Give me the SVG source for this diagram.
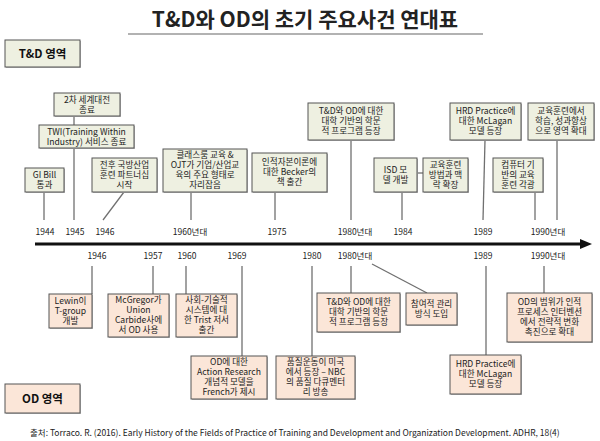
<svg xmlns="http://www.w3.org/2000/svg" width="600" height="441" viewBox="0 0 600 441">
<style>
text{font-family:"Noto Sans CJK KR","Liberation Sans",sans-serif;fill:#222;}
.t{font-size:8.6px;text-anchor:middle;}
.yr{font-size:8.5px;text-anchor:middle;fill:#222;}
.td{fill:#eef0e1;stroke:#555;stroke-width:1;}
.od{fill:#fbe6d8;stroke:#555;stroke-width:1;}
.sh{fill:#bbb;}
.c{stroke:#707070;stroke-width:1.3;fill:none;}
.lab{font-size:11.5px;font-weight:bold;text-anchor:middle;fill:#111;}
</style>
<rect width="600" height="441" fill="#fff"/>
<g id="title">
<text x="305" y="27" font-size="21" font-weight="bold" text-anchor="middle" fill="#111">T&amp;D와 OD의 초기 주요사건 연대표</text>
<line x1="128" y1="34" x2="483" y2="34" stroke="#999" stroke-width="1.5"/>
</g>
<g id="label-td"><rect class="sh" x="6" y="41" width="75" height="27"/><rect class="td" x="5" y="40" width="75" height="27"/><text class="lab" x="42.5" y="58">T&amp;D 영역</text></g>
<g id="label-od"><rect class="sh" x="6" y="385" width="75" height="29"/><rect class="od" x="5" y="384" width="75" height="29"/><text class="lab" x="42.5" y="403">OD 영역</text></g>

<g id="connectors">
<line class="c" x1="74" y1="116" x2="74" y2="125"/>
<line class="c" x1="74" y1="148" x2="74" y2="220"/>
<line class="c" x1="44" y1="192" x2="44" y2="220"/>
<line class="c" x1="124" y1="192" x2="103" y2="220"/>
<line class="c" x1="191" y1="192" x2="191" y2="220"/>
<line class="c" x1="275" y1="192" x2="275" y2="220"/>
<line class="c" x1="351" y1="140" x2="351" y2="220"/>
<line class="c" x1="402" y1="192" x2="402" y2="220"/>
<line class="c" x1="417" y1="173" x2="423" y2="173"/>
<line class="c" x1="485" y1="140" x2="483" y2="220"/>
<line class="c" x1="557" y1="140" x2="557" y2="220"/>
<line class="c" x1="535" y1="192" x2="535" y2="220"/>
<line class="c" x1="92" y1="266" x2="92" y2="294"/>
<line class="c" x1="153" y1="266" x2="153" y2="294"/>
<line class="c" x1="186" y1="266" x2="186" y2="294"/>
<line class="c" x1="242" y1="266" x2="242" y2="356"/>
<line class="c" x1="312" y1="266" x2="312" y2="356"/>
<line class="c" x1="351" y1="266" x2="351" y2="293"/>
<line class="c" x1="372" y1="264" x2="427" y2="293"/>
<line class="c" x1="486" y1="266" x2="486" y2="355"/>
<line class="c" x1="544" y1="266" x2="544" y2="293"/>
</g>

<g id="axis">
<line x1="35" y1="244" x2="584" y2="244" stroke="#111" stroke-width="3"/>
<polygon points="580,239 592,244 580,249" fill="#111"/>
</g>

<g id="years-top">
<text class="yr" x="45" y="235">1944</text>
<text class="yr" x="75" y="235">1945</text>
<text class="yr" x="105" y="235">1946</text>
<text class="yr" x="190" y="235">1960년대</text>
<text class="yr" x="277" y="235">1975</text>
<text class="yr" x="355" y="235">1980년대</text>
<text class="yr" x="403" y="235">1984</text>
<text class="yr" x="483" y="235">1989</text>
<text class="yr" x="548" y="235">1990년대</text>
</g>
<g id="years-bottom">
<text class="yr" x="97" y="259">1946</text>
<text class="yr" x="153" y="259">1957</text>
<text class="yr" x="187" y="259">1960</text>
<text class="yr" x="237" y="259">1969</text>
<text class="yr" x="312" y="259">1980</text>
<text class="yr" x="355" y="259">1980년대</text>
<text class="yr" x="483" y="259">1989</text>
<text class="yr" x="548" y="259">1990년대</text>
</g>

<g id="b-ww2"><rect class="sh" x="55" y="94" width="66" height="23"/><rect class="td" x="54" y="93" width="66" height="23"/><text class="t" x="87" y="103"><tspan x="87">2차 세계대전</tspan><tspan x="87" dy="10">종료</tspan></text></g>
<g id="b-twi"><rect class="sh" x="40" y="126" width="95" height="23"/><rect class="td" x="39" y="125" width="95" height="23"/><text class="t" x="86.5" y="135"><tspan x="86.5">TWI(Training Within</tspan><tspan x="86.5" dy="10">Industry) 서비스 종료</tspan></text></g>
<g id="b-gi"><rect class="sh" x="26" y="169" width="39" height="24"/><rect class="td" x="25" y="168" width="39" height="24"/><text class="t" x="44.5" y="178"><tspan x="44.5">GI Bill</tspan><tspan x="44.5" dy="10">통과</tspan></text></g>
<g id="b-defense"><rect class="sh" x="93" y="159" width="65" height="34"/><rect class="td" x="92" y="158" width="65" height="34"/><text class="t" x="124.5" y="168"><tspan x="124.5">전후 국방산업</tspan><tspan x="124.5" dy="10">훈련 파트너십</tspan><tspan x="124.5" dy="10">시작</tspan></text></g>
<g id="b-classroom"><rect class="sh" x="164" y="150" width="84" height="43"/><rect class="td" x="163" y="149" width="84" height="43"/><text class="t" x="205" y="158"><tspan x="205">클래스룸 교육 &amp;</tspan><tspan x="205" dy="10">OJT가 기업/산업교</tspan><tspan x="205" dy="10">육의 주요 형태로</tspan><tspan x="205" dy="10">자리잡음</tspan></text></g>
<g id="b-becker"><rect class="sh" x="253" y="154" width="75" height="39"/><rect class="td" x="252" y="153" width="75" height="39"/><text class="t" x="289.5" y="165"><tspan x="289.5">인적자본이론에</tspan><tspan x="289.5" dy="10">대한 Becker의</tspan><tspan x="289.5" dy="10">책 출간</tspan></text></g>
<g id="b-univ-td"><rect class="sh" x="309" y="104" width="86" height="37"/><rect class="td" x="308" y="103" width="86" height="37"/><text class="t" x="351" y="114"><tspan x="351">T&amp;D와 OD에 대한</tspan><tspan x="351" dy="10">대학 기반의 학문</tspan><tspan x="351" dy="10">적 프로그램 등장</tspan></text></g>
<g id="b-isd"><rect class="sh" x="375" y="159" width="43" height="34"/><rect class="td" x="374" y="158" width="43" height="34"/><text class="t" x="395.5" y="173"><tspan x="395.5">ISD 모</tspan><tspan x="395.5" dy="10">델 개발</tspan></text></g>
<g id="b-method"><rect class="sh" x="424" y="159" width="45" height="34"/><rect class="td" x="423" y="158" width="45" height="34"/><text class="t" x="445.5" y="168"><tspan x="445.5">교육훈련</tspan><tspan x="445.5" dy="10">방법과 맥</tspan><tspan x="445.5" dy="10">락 확장</tspan></text></g>
<g id="b-hrd-td"><rect class="sh" x="451" y="104" width="71" height="37"/><rect class="td" x="450" y="103" width="71" height="37"/><text class="t" x="485.5" y="114"><tspan x="485.5">HRD Practice에</tspan><tspan x="485.5" dy="10">대한 McLagan</tspan><tspan x="485.5" dy="10">모델 등장</tspan></text></g>
<g id="b-learning"><rect class="sh" x="529" y="104" width="66" height="37"/><rect class="td" x="528" y="103" width="66" height="37"/><text class="t" x="561" y="114"><tspan x="561">교육훈련에서</tspan><tspan x="561" dy="10">학습, 성과향상</tspan><tspan x="561" dy="10">으로 영역 확대</tspan></text></g>
<g id="b-computer"><rect class="sh" x="494" y="159" width="50" height="34"/><rect class="td" x="493" y="158" width="50" height="34"/><text class="t" x="518" y="168"><tspan x="518">컴퓨터 기</tspan><tspan x="518" dy="10">반의 교육</tspan><tspan x="518" dy="10">훈련 각광</tspan></text></g>

<g id="b-lewin"><rect class="sh" x="50" y="295" width="43" height="34"/><rect class="od" x="49" y="294" width="43" height="34"/><text class="t" x="70.5" y="304"><tspan x="70.5">Lewin이</tspan><tspan x="70.5" dy="10">T-group</tspan><tspan x="70.5" dy="10">개발</tspan></text></g>
<g id="b-mcgregor"><rect class="sh" x="109" y="295" width="61" height="43"/><rect class="od" x="108" y="294" width="61" height="43"/><text class="t" x="138.5" y="303"><tspan x="138.5">McGregor가</tspan><tspan x="138.5" dy="10">Union</tspan><tspan x="138.5" dy="10">Carbide사에</tspan><tspan x="138.5" dy="10">서 OD 사용</tspan></text></g>
<g id="b-trist"><rect class="sh" x="177" y="295" width="61" height="43"/><rect class="od" x="176" y="294" width="61" height="43"/><text class="t" x="206.5" y="303"><tspan x="206.5">사회-기술적</tspan><tspan x="206.5" dy="10">시스템에 대</tspan><tspan x="206.5" dy="10">한 Trist 저서</tspan><tspan x="206.5" dy="10">출간</tspan></text></g>
<g id="b-action"><rect class="sh" x="192" y="357" width="76" height="43"/><rect class="od" x="191" y="356" width="76" height="43"/><text class="t" x="229" y="365"><tspan x="229">OD에 대한</tspan><tspan x="229" dy="10">Action Research</tspan><tspan x="229" dy="10">개념적 모델을</tspan><tspan x="229" dy="10">French가 제시</tspan></text></g>
<g id="b-quality"><rect class="sh" x="277" y="357" width="79" height="43"/><rect class="od" x="276" y="356" width="79" height="43"/><text class="t" x="315.5" y="365"><tspan x="315.5">품질운동이 미국</tspan><tspan x="315.5" dy="10">에서 등장 – NBC</tspan><tspan x="315.5" dy="10">의 품질 다큐멘터</tspan><tspan x="315.5" dy="10">리 방송</tspan></text></g>
<g id="b-univ-od"><rect class="sh" x="318" y="294" width="83" height="39"/><rect class="od" x="317" y="293" width="83" height="39"/><text class="t" x="358.5" y="305"><tspan x="358.5">T&amp;D와 OD에 대한</tspan><tspan x="358.5" dy="10">대학 기반의 학문</tspan><tspan x="358.5" dy="10">적 프로그램 등장</tspan></text></g>
<g id="b-particip"><rect class="sh" x="407" y="294" width="51" height="32"/><rect class="od" x="406" y="293" width="51" height="32"/><text class="t" x="431.5" y="307"><tspan x="431.5">참여적 관리</tspan><tspan x="431.5" dy="10">방식 도입</tspan></text></g>
<g id="b-hrd-od"><rect class="sh" x="451" y="356" width="71" height="39"/><rect class="od" x="450" y="355" width="71" height="39"/><text class="t" x="485.5" y="367"><tspan x="485.5">HRD Practice에</tspan><tspan x="485.5" dy="10">대한 McLagan</tspan><tspan x="485.5" dy="10">모델 등장</tspan></text></g>
<g id="b-scope"><rect class="sh" x="508" y="294" width="85" height="49"/><rect class="od" x="507" y="293" width="85" height="49"/><text class="t" x="549.5" y="305"><tspan x="549.5">OD의 범위가 인적</tspan><tspan x="549.5" dy="10">프로세스 인터벤션</tspan><tspan x="549.5" dy="10">에서 전략적 변화</tspan><tspan x="549.5" dy="10">촉진으로 확대</tspan></text></g>

<g id="footer"><text x="30" y="436" font-size="8.5" fill="#333">출처: Torraco. R. (2016). Early History of the Fields of Practice of Training and Development and Organization Development. ADHR, 18(4)</text></g>
</svg>
